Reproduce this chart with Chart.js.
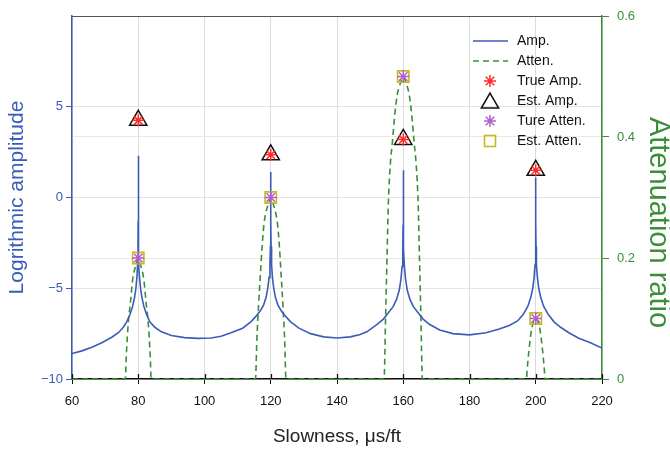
<!DOCTYPE html>
<html>
<head>
<meta charset="utf-8">
<script src="https://cdn.jsdelivr.net/npm/chart.js@4.4.0/dist/chart.umd.min.js"></script>
<style>
  html, body { margin: 0; padding: 0; background: #fff; }
</style>
</head>
<body>
<canvas id="grafico" width="670" height="451"></canvas>
<script>
// dados - amplitude (curva continua)
const ampSlowness = [60, 63, 66, 69, 72, 74, 75.5, 76.5, 77.5, 78.3, 78.9, 79.3, 79.6, 79.8, 79.92, 79.97, 80,
  80.03, 80.08, 80.2, 80.4, 80.7, 81.1, 81.7, 82.5, 83.5, 85, 87, 90, 94, 98, 102, 105, 108, 111.5,
  114, 115.5, 116.8, 117.8, 118.6, 119.1, 119.5, 119.75, 119.9, 119.96, 120,
  120.04, 120.1, 120.25, 120.5, 120.9, 121.4, 122.2, 123.2, 124.5, 126, 128.5, 132, 136, 140, 144, 147, 149,
  152, 154, 155.5, 157, 158, 158.8, 159.3, 159.65, 159.85, 159.95, 160,
  160.05, 160.15, 160.35, 160.7, 161.2, 162, 163, 164.5, 166, 168, 171, 175, 180, 185, 189,
  192, 194.5, 196.2, 197.6, 198.5, 199.1, 199.5, 199.8, 199.92, 199.97, 200,
  200.03, 200.08, 200.2, 200.5, 200.9, 201.5, 202.4, 203.8, 205.5, 207.5, 210, 213, 216.5, 220];
const logAmp = [-8.6, -8.45, -8.25, -8.0, -7.7, -7.45, -7.15, -6.85, -6.45, -6.0, -5.5, -5.0, -4.4, -3.7, -2.7, -1.3, 2.3,
  -1.3, -2.7, -3.7, -4.4, -5.0, -5.5, -6.0, -6.45, -6.85, -7.15, -7.4, -7.6, -7.72, -7.76, -7.74, -7.65, -7.45, -7.2,
  -6.85, -6.55, -6.25, -5.95, -5.5, -5.0, -4.4, -3.7, -2.7, -1.4, 1.4,
  -1.4, -2.7, -3.7, -4.4, -5.0, -5.5, -5.95, -6.25, -6.55, -6.85, -7.2, -7.5, -7.68, -7.74, -7.68, -7.55, -7.4,
  -7.0, -6.7, -6.35, -6.0, -5.6, -5.1, -4.5, -3.8, -2.8, -1.5, 1.5,
  -1.5, -2.8, -3.8, -4.5, -5.1, -5.6, -6.0, -6.35, -6.7, -7.0, -7.3, -7.5, -7.57, -7.45, -7.25,
  -7.05, -6.8, -6.45, -6.0, -5.5, -5.0, -4.4, -3.7, -2.7, -1.3, 1.1,
  -1.3, -2.7, -3.7, -4.4, -5.0, -5.5, -6.0, -6.45, -6.85, -7.15, -7.45, -7.75, -8.0, -8.3];

// dados - atenuacao (curva tracejada)
const attSlowness = [60, 76.1, 76.4, 77, 77.7, 78.3, 79.4, 80, 80.6, 81.7, 82.3, 83, 83.6, 83.9,
  115.4, 115.8, 116.3, 116.9, 117.4, 118, 119.3, 120, 120.7, 122, 122.6, 123.1, 123.7, 124.2, 124.6,
  154.2, 154.7, 155.1, 155.5, 156.1, 156.7, 157.5, 158.2, 159.2, 160, 160.8, 161.8, 162.5, 163.3, 163.9, 164.5, 164.9, 165.3, 165.8,
  197.2, 197.4, 198, 198.7, 199.5, 200, 200.5, 201.3, 202, 202.6, 202.8, 220];
const attRatio = [0, 0, 0.04, 0.093, 0.13, 0.164, 0.19, 0.2, 0.19, 0.164, 0.13, 0.093, 0.04, 0,
  0, 0.064, 0.12, 0.175, 0.22, 0.258, 0.29, 0.3, 0.29, 0.258, 0.22, 0.175, 0.12, 0.064, 0,
  0, 0.11, 0.2, 0.29, 0.355, 0.39, 0.44, 0.47, 0.49, 0.5, 0.49, 0.47, 0.44, 0.39, 0.355, 0.29, 0.2, 0.11, 0,
  0, 0.015, 0.05, 0.081, 0.097, 0.1, 0.097, 0.081, 0.05, 0.015, 0, 0];

// dados - marcadores
const picos = [80, 120, 160, 200];
const trueAmp = [4.25, 2.35, 3.2, 1.5];
const estAmp = [4.25, 2.35, 3.2, 1.5];
const trueAtten = [0.2, 0.3, 0.5, 0.1];
const estAtten = [0.2, 0.3, 0.5, 0.1];

const xTicks = [60, 80, 100, 120, 140, 160, 180, 200, 220];
const ampTicks = [-10, -5, 0, 5];
const attTicks = [0, 0.2, 0.4, 0.6];

// cores
const azul = '#3b5cb8';
const verde = '#3a8e3a';
const vermelho = '#ff2b2b';
const roxo = '#b45ec9';
const amarelo = '#c3bb22';
const fonte = '"Liberation Sans", Arial, sans-serif';

const pares = (xs, ys) => xs.map((x, i) => ({ x: x, y: ys[i] }));

// legenda desenhada dentro do grafico
function asterisco(ctx, x, y, r, cor) {
  ctx.strokeStyle = cor;
  ctx.lineWidth = 1.5;
  ctx.beginPath();
  for (let k = 0; k < 4; k++) {
    const a = k * Math.PI / 4;
    ctx.moveTo(x - r * Math.cos(a), y - r * Math.sin(a));
    ctx.lineTo(x + r * Math.cos(a), y + r * Math.sin(a));
  }
  ctx.stroke();
}

const moldura = {
  id: 'moldura',
  afterDraw(chart) {
    const { ctx, chartArea: a, scales } = chart;
    ctx.save();
    ctx.lineWidth = 1;
    ctx.strokeStyle = '#555';
    ctx.beginPath();
    ctx.moveTo(a.left, a.top + 0.5);
    ctx.lineTo(a.right, a.top + 0.5);
    ctx.stroke();

    // ticks do eixo x cruzando a linha
    ctx.strokeStyle = '#111';
    ctx.lineWidth = 1.3;
    ctx.beginPath();
    xTicks.forEach(v => {
      const px = Math.round(scales.x.getPixelForValue(v)) + 0.5;
      ctx.moveTo(px, a.bottom);
      ctx.lineTo(px, a.bottom - 5);
    });
    ctx.stroke();

    // titulo do eixo da direita (maior e um pouco abaixo do centro)
    ctx.save();
    ctx.translate(a.right + 56, (a.top + a.bottom) / 2 + 25);
    ctx.rotate(Math.PI / 2);
    ctx.fillStyle = verde;
    ctx.font = '29px ' + fonte;
    ctx.textAlign = 'center';
    ctx.textBaseline = 'middle';
    ctx.fillText('Attenuation ratio', 0, 0);
    ctx.restore();

    // legenda
    const x0 = a.right - 129, y0 = a.top + 25, dy = 20;
    const xm = x0 + 17, xt = x0 + 44;
    ctx.lineWidth = 1.6;
    ctx.strokeStyle = azul;
    ctx.beginPath(); ctx.moveTo(x0, y0); ctx.lineTo(x0 + 35, y0); ctx.stroke();
    ctx.strokeStyle = verde;
    ctx.setLineDash([6, 4]);
    ctx.beginPath(); ctx.moveTo(x0, y0 + dy); ctx.lineTo(x0 + 35, y0 + dy); ctx.stroke();
    ctx.setLineDash([]);
    asterisco(ctx, xm, y0 + 2 * dy, 6, vermelho);
    ctx.strokeStyle = '#111';
    ctx.lineWidth = 1.5;
    ctx.beginPath();
    const r = 10, yc = y0 + 3 * dy + 2;
    for (let k = 0; k < 3; k++) {
      const ang = -Math.PI / 2 + k * 2 * Math.PI / 3;
      const px = xm + r * Math.cos(ang), py = yc + r * Math.sin(ang);
      if (k === 0) ctx.moveTo(px, py); else ctx.lineTo(px, py);
    }
    ctx.closePath(); ctx.stroke();
    asterisco(ctx, xm, y0 + 4 * dy, 6, roxo);
    ctx.strokeStyle = amarelo;
    ctx.lineWidth = 1.6;
    ctx.strokeRect(xm - 5.5, y0 + 5 * dy - 5.5, 11, 11);

    ctx.fillStyle = '#111';
    ctx.font = '14px ' + fonte;
    ctx.textBaseline = 'middle';
    ['Amp.', 'Atten.', 'True Amp.', 'Est. Amp.', 'Ture Atten.', 'Est. Atten.'].forEach((t, i) => {
      ctx.fillText(t, xt, y0 + i * dy);
    });
    ctx.restore();
  }
};

const menos = v => String(v).replace('-', '\u2212');

new Chart(document.getElementById('grafico'), {
  type: 'scatter',
  data: {
    datasets: [
      { label: 'True Amp.', data: pares(picos, trueAmp), yAxisID: 'y', pointStyle: 'star',
        radius: 6, borderColor: vermelho, borderWidth: 1.5, backgroundColor: vermelho },
      { label: 'Est. Amp.', data: pares(picos, estAmp), yAxisID: 'y', pointStyle: 'triangle',
        radius: 10, borderColor: '#111', borderWidth: 1.5, backgroundColor: 'rgba(0,0,0,0)' },
      { label: 'Ture Atten.', data: pares(picos, trueAtten), yAxisID: 'y1', pointStyle: 'star',
        radius: 6, borderColor: roxo, borderWidth: 1.5, backgroundColor: roxo },
      { label: 'Est. Atten.', data: pares(picos, estAtten), yAxisID: 'y1', pointStyle: 'rect',
        radius: 8, borderColor: amarelo, borderWidth: 1.6, backgroundColor: 'rgba(0,0,0,0)' },
      { label: 'Amp.', data: pares(ampSlowness, logAmp), yAxisID: 'y', showLine: true,
        borderColor: azul, borderWidth: 1.6, pointRadius: 0, tension: 0 },
      { label: 'Atten.', data: pares(attSlowness, attRatio), yAxisID: 'y1', showLine: true,
        borderColor: verde, borderWidth: 1.6, borderDash: [6, 4], pointRadius: 0,
        cubicInterpolationMode: 'monotone', clip: 6 }
    ]
  },
  options: {
    responsive: false,
    animation: false,
    layout: { padding: { top: 16, left: 0, right: 0, bottom: 0 } },
    plugins: { legend: { display: false }, tooltip: { enabled: false } },
    scales: {
      x: {
        type: 'linear', min: 60, max: 220,
        afterFit: s => { s.height = 72; },
        afterBuildTicks: s => { s.ticks = xTicks.map(v => ({ value: v })); },
        grid: { color: '#dcdcdc', tickColor: '#111', tickLength: 5 },
        border: { color: '#111', width: 1.5 },
        ticks: { color: '#111', font: { family: fonte, size: 13 }, padding: 10 },
        title: { display: true, text: 'Slowness, μs/ft', color: '#222',
          font: { family: fonte, size: 19 }, padding: { top: 0, bottom: 3 } }
      },
      y: {
        position: 'left', min: -10, max: 10,
        afterFit: s => { s.width = 72; },
        afterBuildTicks: s => { s.ticks = ampTicks.map(v => ({ value: v })); },
        grid: { color: '#e1e3f3', tickColor: azul, tickLength: 6 },
        border: { color: azul, width: 1.5 },
        ticks: { color: azul, font: { family: fonte, size: 13 }, padding: 3, callback: v => menos(v) },
        title: { display: true, text: 'Logrithmic amplitude', color: azul,
          font: { family: fonte, size: 21 }, padding: { top: 5, bottom: 0 } }
      },
      y1: {
        position: 'right', min: 0, max: 0.6,
        afterFit: s => { s.width = 68; },
        afterBuildTicks: s => { s.ticks = attTicks.map(v => ({ value: v })); },
        grid: { color: '#ece9d5', tickColor: verde, tickLength: 7 },
        border: { color: verde, width: 1.5 },
        ticks: { color: verde, font: { family: fonte, size: 13 }, padding: 8, callback: v => String(v) },
        title: { display: false }
      }
    }
  },
  plugins: [moldura]
});
</script>
</body>
</html>
